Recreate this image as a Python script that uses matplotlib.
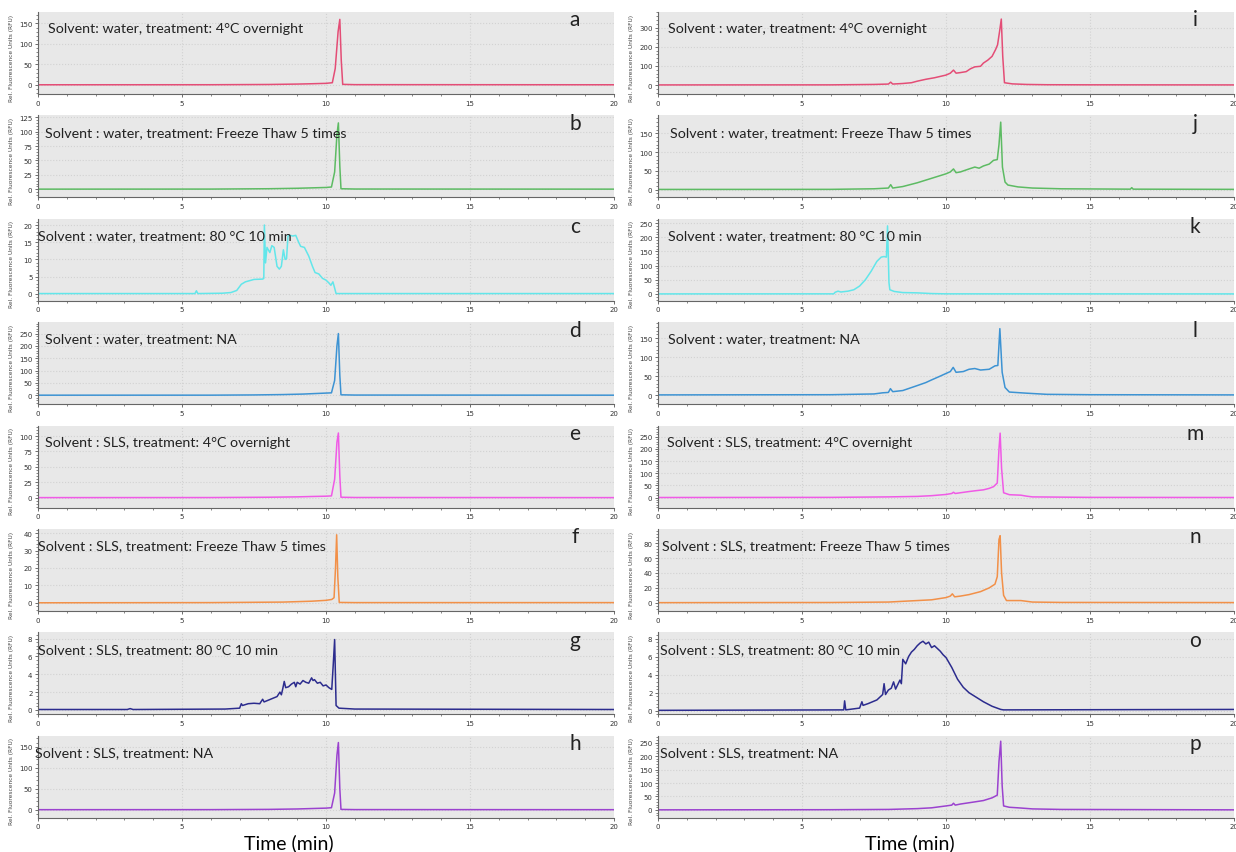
import matplotlib.pyplot as plt
from matplotlib.ticker import MultipleLocator

# time (min) / RFU traces
t_a = [0, 6, 8, 9, 9.5, 10, 10.22, 10.32, 10.42, 10.48, 10.53, 10.58, 11, 20]
rfu_a = [0.5, 0.6, 1.2, 2.2, 3, 4, 5.5, 40, 130, 160, 60, 1.5, 0.8, 0.5]

t_b = [0, 6, 8, 9, 9.5, 10, 10.19, 10.3, 10.38, 10.43, 10.48, 10.52, 11, 20]
rfu_b = [0.3, 0.4, 1, 1.8, 2.5, 3.2, 4, 30, 95, 115, 40, 1, 0.5, 0.3]

t_c = [0, 5.45, 5.5, 5.55, 6.4, 6.7, 6.9, 7.06, 7.2, 7.5, 7.8, 7.84, 7.86, 7.9, 7.95,
       8.05, 8.12, 8.2, 8.3, 8.38, 8.45, 8.52, 8.58, 8.63, 8.68, 8.75, 8.85, 8.95,
       9.05, 9.12, 9.25, 9.4, 9.53, 9.62, 9.75, 9.88, 10.0, 10.1, 10.17, 10.24,
       10.29, 10.35, 11, 20]
rfu_c = [0.1, 0.1, 0.9, 0.1, 0.2, 0.4, 1.0, 2.8, 3.5, 4.2, 4.3, 4.5, 20, 9, 13.5,
         12, 14, 13.5, 8, 7.2, 8, 12.8, 10, 10.2, 16.8, 17, 16.8, 17,
         15, 13.8, 13.5, 11, 8, 6.2, 5.8, 4.5, 4, 3.2, 2.5, 3.5,
         2, 0.1, 0.1, 0.1]

t_d = [0, 6, 7.5, 8.5, 9.2, 9.8, 10.19, 10.3, 10.38, 10.43, 10.48, 10.52, 11, 20]
rfu_d = [0.5, 0.6, 1.5, 3, 5, 8, 10, 60, 200, 250, 80, 2, 1, 0.5]

t_e = [0, 6, 8, 9, 9.5, 10, 10.19, 10.3, 10.38, 10.43, 10.48, 10.52, 11, 20]
rfu_e = [0.2, 0.3, 0.8, 1.4, 2, 2.5, 3, 30, 90, 105, 35, 0.8, 0.4, 0.2]

t_f = [0, 6, 8.5, 9.5, 10.0, 10.2, 10.28, 10.33, 10.37, 10.41, 10.46, 11, 20]
rfu_f = [0.1, 0.2, 0.5, 1.0, 1.5, 2.0, 3, 20, 39, 15, 0.3, 0.2, 0.2]

t_g = [0, 3.1, 3.2, 3.3, 6.5, 7.0, 7.06, 7.1, 7.3, 7.5, 7.7, 7.8, 7.85, 8.0, 8.15,
       8.3, 8.4, 8.45, 8.5, 8.55, 8.6, 8.7, 8.8, 8.9, 8.95, 9.0, 9.1, 9.2, 9.3,
       9.4, 9.5, 9.55, 9.6, 9.7, 9.8, 9.9, 10.0, 10.1, 10.2, 10.25, 10.3,
       10.35, 10.45, 11, 20]
rfu_g = [0.05, 0.05, 0.15, 0.05, 0.1, 0.2, 0.7, 0.5, 0.7, 0.75, 0.7, 1.2, 0.9, 1.1, 1.3,
         1.5, 2.0, 1.7, 2.4, 3.2, 2.5, 2.6, 2.9, 3.1, 2.6, 3.1, 2.9, 3.3, 3.1,
         3.0, 3.6, 3.3, 3.4, 3.0, 3.1, 2.7, 2.8, 2.5, 2.3, 5.0, 7.9,
         0.5, 0.2, 0.1, 0.05]

t_h = [0, 6, 8, 9, 9.5, 10, 10.19, 10.3, 10.38, 10.43, 10.48, 10.52, 11, 20]
rfu_h = [0.3, 0.4, 1, 2, 3, 4, 5, 40, 130, 160, 50, 1, 0.5, 0.3]

t_i = [0, 6, 7.5, 8.0, 8.08, 8.15, 8.5, 8.8, 9.0, 9.3, 9.6, 9.8, 10.0, 10.15, 10.26,
       10.35, 10.5, 10.7, 10.85, 11.0, 11.2, 11.3, 11.45, 11.6, 11.72, 11.79,
       11.86, 11.92, 11.97, 12.03, 12.3, 12.8, 13.5, 15, 20]
rfu_i = [0.5, 0.8, 3, 5, 15, 5, 8, 12, 20, 30, 38, 45, 52, 62, 78,
         62, 65, 70, 85, 95, 98, 115, 130, 150, 185, 210,
         280, 345, 150, 12, 6, 3, 1.5, 1, 0.5]

t_j = [0, 6, 7.5, 8.0, 8.08, 8.15, 8.5, 9.0, 9.5, 10.0, 10.15, 10.26, 10.35, 10.5,
       10.8, 11.0, 11.15, 11.3, 11.5, 11.65, 11.78, 11.84, 11.9, 11.96, 12.05,
       12.15, 12.5, 13.0, 14.0, 16.4, 16.45, 16.5, 20]
rfu_j = [0.3, 0.5, 2, 4, 13, 4, 8, 18, 30, 42, 47, 55, 45, 47,
         55, 60, 57, 63, 68, 78, 80, 120, 180, 60, 20,
         12, 7, 4, 2, 1, 5, 1, 0.5]

t_k = [0, 6.1, 6.15, 6.25, 6.35, 6.6, 6.8, 7.0, 7.2, 7.4, 7.6, 7.75, 7.85, 7.93,
       7.97, 8.02, 8.05, 8.2, 8.5, 9.0, 9.5, 10.0, 20]
rfu_k = [0.3, 0.5, 6, 10, 7, 10, 15, 28, 50, 80, 115, 130, 132, 130,
         240, 40, 15, 9, 5, 4, 1.5, 0.5, 0.3]

t_l = [0, 6, 7.5, 7.8, 8.0, 8.07, 8.15, 8.5, 9.0, 9.3, 9.5, 9.8, 10.0, 10.15, 10.25,
       10.35, 10.6, 10.8, 11.0, 11.2, 11.5, 11.7, 11.8, 11.87, 11.95, 12.05,
       12.2, 12.8, 13.5, 15, 20]
rfu_l = [0.5, 1, 3, 6, 7, 17, 9, 12, 25, 33, 40, 50, 57, 62, 73,
         60, 62, 68, 70, 66, 68, 77, 78, 175, 60, 20,
         8, 5, 2, 1, 0.5]

t_m = [0, 6, 8.0, 9.0, 9.5, 10.0, 10.2, 10.26, 10.32, 10.5, 10.8, 11.0, 11.3, 11.5,
       11.65, 11.78, 11.84, 11.88, 11.93, 12.0, 12.2, 12.6, 12.8, 13.0, 14.0, 15.0, 20]
rfu_m = [0.5, 1, 3, 5, 8, 13, 17, 22, 17, 20, 25, 28, 32, 38,
         45, 60, 200, 265, 120, 20, 12, 10, 6, 3, 2, 1, 0.5]

t_n = [0, 6, 8.0, 8.5, 9.0, 9.5, 10.0, 10.15, 10.22, 10.3, 10.5, 10.8, 11.0, 11.2,
       11.5, 11.7, 11.78, 11.84, 11.88, 11.93, 12.0, 12.1, 12.6, 13.0, 14.0, 20]
rfu_n = [0.2, 0.4, 1, 2, 3, 4, 7, 9, 12, 8, 9, 11, 13, 15,
         20, 25, 35, 85, 90, 40, 10, 3, 3, 1, 0.5, 0.3]

t_o = [0, 6.45, 6.48, 6.52, 7.0, 7.08, 7.12, 7.3, 7.6, 7.8, 7.85, 7.9, 8.0, 8.1, 8.18,
       8.25, 8.4, 8.45, 8.5, 8.6, 8.7, 8.8, 8.9, 9.0, 9.1, 9.2, 9.3, 9.4, 9.5,
       9.6, 9.8, 9.9, 10.0, 10.2, 10.4, 10.6, 10.8, 11.0, 11.3, 11.6, 11.9, 12.0, 20]
rfu_o = [0.05, 0.1, 1.1, 0.1, 0.3, 1.0, 0.6, 0.8, 1.2, 1.8, 3.0, 1.8, 2.3, 2.5, 3.2,
         2.4, 3.4, 3.0, 5.7, 5.2, 6.0, 6.5, 6.8, 7.2, 7.5, 7.7, 7.4, 7.6, 7.0,
         7.2, 6.6, 6.2, 5.9, 4.8, 3.5, 2.6, 2.0, 1.6, 1.0, 0.5, 0.15, 0.1, 0.15]

t_p = [0, 6, 8.0, 9.0, 9.5, 10.0, 10.2, 10.26, 10.32, 10.5, 11.0, 11.3, 11.6, 11.78,
       11.84, 11.9, 11.95, 12.0, 12.2, 12.5, 13.0, 14.0, 20]
rfu_p = [0.5, 1, 2, 5, 8, 15, 18, 25, 18, 22, 30, 35, 45, 55,
         180, 255, 90, 15, 10, 8, 4, 2, 0.5]

times = [t_a, t_b, t_c, t_d, t_e, t_f, t_g, t_h, t_i, t_j, t_k, t_l, t_m, t_n, t_o, t_p]
signals = [rfu_a, rfu_b, rfu_c, rfu_d, rfu_e, rfu_f, rfu_g, rfu_h,
           rfu_i, rfu_j, rfu_k, rfu_l, rfu_m, rfu_n, rfu_o, rfu_p]
letters = list('abcdefghijklmnop')
titles = ['Solvent: water, treatment: 4°C overnight',
          'Solvent : water, treatment: Freeze Thaw 5 times',
          'Solvent : water, treatment: 80 °C 10 min',
          'Solvent : water, treatment: NA',
          'Solvent : SLS, treatment: 4°C overnight',
          'Solvent : SLS, treatment: Freeze Thaw 5 times',
          'Solvent : SLS, treatment: 80 °C 10 min',
          'Solvent : SLS, treatment: NA',
          'Solvent : water, treatment: 4°C overnight',
          'Solvent : water, treatment: Freeze Thaw 5 times',
          'Solvent : water, treatment: 80 °C 10 min',
          'Solvent : water, treatment: NA',
          'Solvent : SLS, treatment: 4°C overnight',
          'Solvent : SLS, treatment: Freeze Thaw 5 times',
          'Solvent : SLS, treatment: 80 °C 10 min',
          'Solvent : SLS, treatment: NA']

# axis setup per panel
ylims = [(-22, 178), (-14, 128), (-2, 21.8), (-36, 296), (-16, 117), (-4.6, 42.3), (-0.5, 8.7), (-19, 176),
         (-47, 382), (-21, 198), (-24, 265), (-24, 192), (-41, 296), (-11, 99), (-0.4, 8.68), (-29, 275)]
ysteps = [50, 25, 5, 50, 25, 10, 2, 50, 100, 50, 50, 50, 50, 20, 2, 50]
colors = ['#e44d76', '#5dbb63', '#62e6ea', '#3d93d3', '#f05ae6', '#f29048', '#2c2c8e', '#9b42cf']
text_px = [48, 45, 38, 45, 45, 38, 38, 35, 668, 670, 668, 668, 667, 662, 660, 660]

W, H = 1236, 853
fig = plt.figure(figsize=(W / 100, H / 100), dpi=100)
plt.rcParams['font.family'] = ['DejaVu Sans']

col_x0 = [38, 658]
pw, ph = 576, 82

for k in range(16):
    col, row = divmod(k, 8)
    top = 13 + 103.4 * row
    x0 = col_x0[col]
    ax = fig.add_axes([x0 / W, 1 - (top + ph) / H, pw / W, ph / H])
    ax.set_facecolor('#e8e8e8')
    ax.plot(times[k], signals[k], color=colors[row], lw=1.1)
    ax.set_xlim(0, 20)
    ax.set_ylim(*ylims[k])
    ax.xaxis.set_major_locator(MultipleLocator(5))
    ax.xaxis.set_minor_locator(MultipleLocator(1))
    ax.yaxis.set_major_locator(MultipleLocator(ysteps[k]))
    ax.yaxis.set_minor_locator(MultipleLocator(ysteps[k] / 5))
    ax.grid(True, which='major', color='#d2d2d2', ls=':', lw=0.8)
    for s in ['top', 'right']:
        ax.spines[s].set_visible(False)
    for s in ['left', 'bottom']:
        ax.spines[s].set_color('#666666')
        ax.spines[s].set_linewidth(0.8)
    ax.tick_params(which='major', length=2.5, width=0.6, color='#555555',
                   labelsize=5, labelcolor='#333333', pad=1.5)
    ax.tick_params(which='minor', length=1.5, width=0.5, color='#555555')
    ax.text((text_px[k] - x0) / pw, 0.8, titles[k], transform=ax.transAxes,
            ha='left', va='center', fontsize=10.3, family='Lato', color='#222222')
    ax.text(0.932, 0.91, letters[k], transform=ax.transAxes, ha='center', va='center',
            fontsize=15, family='Lato', color='#222222')
    fig.text((x0 - 26) / W, 1 - (top + ph / 2 + 4) / H, 'Rel. Fluorescence Units (RFU)',
             rotation=90, ha='center', va='center', fontsize=4.2, color='#444444')

fig.text(289 / W, 1 - 843 / H, 'Time (min)', ha='center', va='center', fontsize=14, family='Lato')
fig.text(910 / W, 1 - 843 / H, 'Time (min)', ha='center', va='center', fontsize=14, family='Lato')

fig.savefig('out.png', dpi=100)
